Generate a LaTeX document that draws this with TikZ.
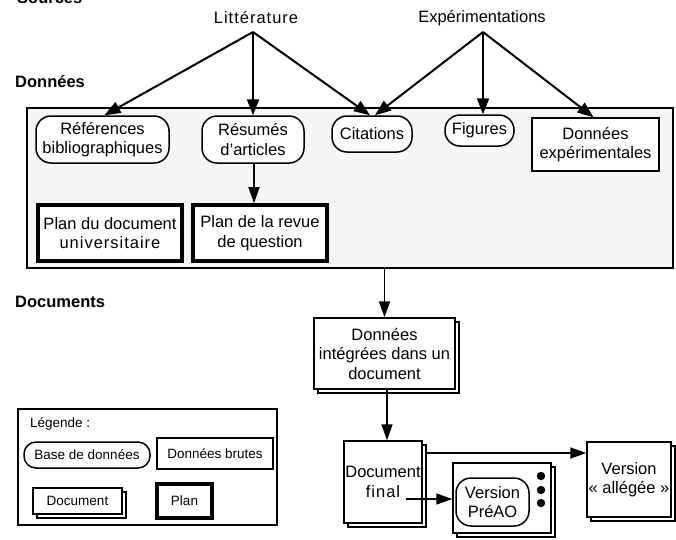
\documentclass[tikz,border=0pt]{standalone}
\usepackage{fontspec}
\setmainfont{Liberation Sans}
\usetikzlibrary{arrows.meta,shadows}
\begin{document}
\begin{tikzpicture}[x=1pt,y=-1pt,
  every node/.style={inner sep=0pt, font=\fontsize{16.5}{19.5}\selectfont, align=center},
  dbnode/.style={draw, line width=1.5pt, fill=white, rounded corners=15pt},
  rawnode/.style={draw, line width=1.5pt, fill=white},
  plannode/.style={draw, line width=3.6pt, fill=white},
  docnode/.style={draw, line width=1.5pt, fill=white, copy shadow={shadow xshift=4pt, shadow yshift=-4pt}},
  section/.style={font=\fontsize{16.5}{19}\selectfont\bfseries, anchor=base west},
  legfont/.style={font=\fontsize{13.5}{16}\selectfont},
  srcarr/.style={-{Triangle[length=16pt,width=12pt]}, line width=2pt},
  arr/.style={-{Triangle[length=16pt,width=11pt]}, line width=1.6pt}]
\useasboundingbox (0,0) rectangle (676,539);

% section labels
\node[section] (lsrc) at (17,3) {Sources};
\node[section] (ldon) at (15,87) {Données};
\node[section] (ldoc) at (15,307) {Documents};

% sources
\node (litt) at (256,18) {\addfontfeature{LetterSpace=6}Littérature};
\node (expe) at (482,18) {Expérimentations};
\coordinate (littp) at (253,32);
\coordinate (expp) at (483,32);

% big data box
\node[draw, line width=1.5pt, fill=black!4, minimum width=646pt, minimum height=160pt] (bigbox) at (350,188) {};

\node[dbnode, minimum width=133pt, minimum height=47pt] (refb) at (102.5,139.5) {Références\\bibliographiques};
\node[dbnode, minimum width=102pt, minimum height=47pt] (resu) at (253,139.5) {Résumés\\d'articles};
\node[dbnode, minimum width=80pt, minimum height=36pt] (cita) at (372,134) {Citations};
\node[dbnode, minimum width=69pt, minimum height=31pt] (figs) at (479.5,130.5) {Figures};
\node[rawnode, minimum width=127pt, minimum height=53pt] (dexp) at (595.5,144.5) {Données\\expérimentales};

\node[plannode, minimum width=144pt, minimum height=56pt] (plan1) at (110,233) {Plan du document\\{\addfontfeature{LetterSpace=6}universitaire}};
\node[plannode, minimum width=134pt, minimum height=56pt] (plan2) at (260,233) {Plan de la revue\\de question};

% source arrows
\draw[srcarr] (littp) -- ([xshift=2pt]refb.north);
\draw[srcarr] (littp) -- (littp |- resu.north);
\draw[srcarr] (littp) -- ([xshift=-2pt]cita.north);
\draw[srcarr] (expp) -- ([xshift=3pt]cita.north);
\draw[srcarr] (expp) -- (expp |- figs.north);
\draw[srcarr] (expp) -- ([xshift=-2pt]dexp.north);

\draw[arr] ([xshift=1pt]resu.south) -- ([xshift=1pt]resu.south |- plan2.north);

% documents
\node[docnode, minimum width=141pt, minimum height=71pt] (doc1) at (384.5,353.5) {Données\\intégrées dans un\\document};
\draw[arr] (bigbox.south -| doc1.north) -- (doc1.north);

\node[docnode, minimum width=78pt, minimum height=82pt] (docf) at (383,482) {Document\\{\addfontfeature{LetterSpace=6}final}};
\coordinate (d2) at ([xshift=4pt]docf.north);
\draw[arr] (d2 |- doc1.south) -- (d2);

\node[docnode, minimum width=98pt, minimum height=70pt] (tv) at (502,498) {};
\node[dbnode, minimum width=73pt, minimum height=48pt] (pao) at (492.5,502) {Version\\PréAO};
\fill (541,476) circle (4.2pt) (541,490) circle (4.2pt) (541,503) circle (4.2pt);

\node[docnode, minimum width=84pt, minimum height=75pt] (vall) at (629,479.5) {Version\\« allégée »};

\coordinate (fstart) at (426,453);
\draw[arr] (fstart) -- (fstart -| vall.west);
\coordinate (finner) at (406,499);
\draw[arr] (finner) -- (finner -| tv.west);

% legend
\node[draw, line width=1.5pt, minimum width=259pt, minimum height=116pt] (leg) at (147.5,467) {};
\node[legfont, anchor=base west] (legt) at (30,427) {Légende :};
\node[dbnode, legfont, rounded corners=12pt, minimum width=126pt, minimum height=26pt] (lbase) at (87,455) {Base de données};
\node[rawnode, legfont, minimum width=116pt, minimum height=31pt] (lraw) at (215,453.5) {Données brutes};
\node[docnode, legfont, minimum width=89pt, minimum height=26pt] (ldocu) at (77.5,501) {Document};
\node[plannode, legfont, minimum width=55pt, minimum height=34pt] (lplan) at (184.5,501) {Plan};
\end{tikzpicture}
\end{document}
